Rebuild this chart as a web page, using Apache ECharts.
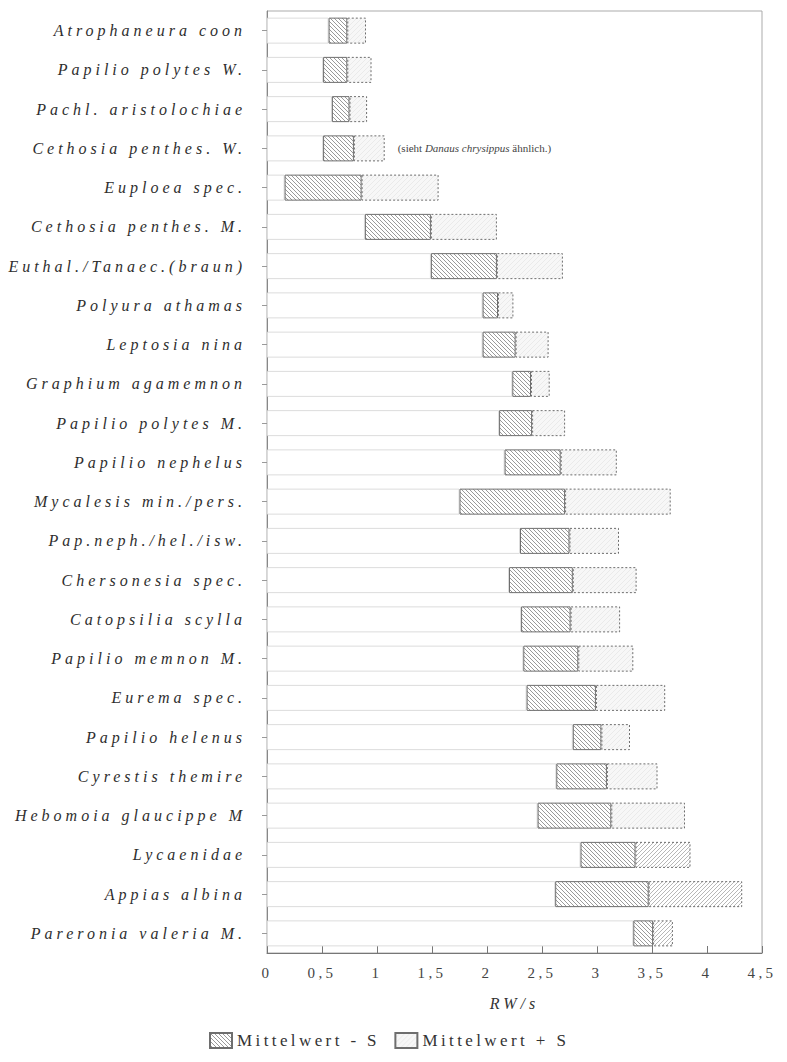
<!DOCTYPE html>
<html>
<head>
<meta charset="utf-8">
<script src="https://cdn.jsdelivr.net/npm/echarts@6/dist/echarts.min.js"></script>
<style>
  html, body { margin: 0; padding: 0; background: #fff; }
  #chart { width: 787px; height: 1062px; }
  /* spaced-out lettering of the printed figure */
  #chart text { letter-spacing: 3.4px; white-space: pre; }
  #chart text[style*="16px"] { letter-spacing: 4px; }
  #chart text[style*="11px"] { letter-spacing: 0; }
</style>
</head>
<body>
<div id="chart"></div>
<script>
// Species / groups, top to bottom
const categories = [
  'Atrophaneura coon',
  'Papilio polytes W.',
  'Pachl. aristolochiae',
  'Cethosia penthes. W.',
  'Euploea spec.',
  'Cethosia penthes. M.',
  'Euthal./Tanaec.(braun)',
  'Polyura athamas',
  'Leptosia nina',
  'Graphium agamemnon',
  'Papilio polytes M.',
  'Papilio nephelus',
  'Mycalesis min./pers.',
  'Pap.neph./hel./isw.',
  'Chersonesia spec.',
  'Catopsilia scylla',
  'Papilio memnon M.',
  'Eurema spec.',
  'Papilio helenus',
  'Cyrestis themire',
  'Hebomoia glaucippe M',
  'Lycaenidae',
  'Appias albina',
  'Pareronia valeria M.'
];

// Mean RW/s per group
const mittelwert = [
  0.73, 0.73, 0.75, 0.79, 0.86, 1.49, 2.09, 2.10, 2.26, 2.40, 2.41, 2.67,
  2.71, 2.75, 2.78, 2.76, 2.83, 2.99, 3.04, 3.09, 3.13, 3.35, 3.47, 3.51
];

// Standard deviation S per group
const streuung = [
  0.17, 0.22, 0.16, 0.28, 0.70, 0.60, 0.60, 0.14, 0.30, 0.17, 0.30, 0.51,
  0.96, 0.45, 0.58, 0.45, 0.50, 0.63, 0.26, 0.46, 0.67, 0.50, 0.85, 0.18
];

// Groups whose "+ S" segment is printed with a dense hatch
const dichtSchraffiert = ['Lycaenidae', 'Appias albina', 'Pareronia valeria M.'];

// Remark printed next to one of the bars
const anmerkungZeile = 'Cethosia penthes. W.';

const serif = "'Liberation Serif', 'DejaVu Serif', serif";

// Repeating diagonal hatch tile
function hatch(dir, lineColor, bg, size, width) {
  const c = document.createElement('canvas');
  c.width = c.height = size;
  const g = c.getContext('2d');
  if (bg) { g.fillStyle = bg; g.fillRect(0, 0, size, size); }
  g.strokeStyle = lineColor;
  g.lineWidth = width;
  g.beginPath();
  if (dir === 'back') {
    g.moveTo(-1, -1); g.lineTo(size + 1, size + 1);
    g.moveTo(size - 1, -1); g.lineTo(size + 1, 1);
    g.moveTo(-1, size - 1); g.lineTo(1, size + 1);
  } else {
    g.moveTo(-1, size + 1); g.lineTo(size + 1, -1);
    g.moveTo(-1, 1); g.lineTo(1, -1);
    g.moveTo(size - 1, size + 1); g.lineTo(size + 1, size - 1);
  }
  g.stroke();
  return c;
}

const minusFill = { image: hatch('back', '#808080', '#ffffff', 4, 0.8), repeat: 'repeat' };
const plusFill = { image: hatch('fwd', '#e6e6e6', '#f7f7f7', 5, 0.8), repeat: 'repeat' };
const plusFillDense = { image: hatch('fwd', '#a4a4a4', '#ffffff', 4, 0.8), repeat: 'repeat' };

const basis = mittelwert.map((m, i) => +(m - streuung[i]).toFixed(3));

const plusData = streuung.map((s, i) => {
  const item = { value: s };
  if (dichtSchraffiert.includes(categories[i])) {
    item.itemStyle = { color: plusFillDense };
  }
  if (categories[i] === anmerkungZeile) {
    item.label = {
      show: true,
      position: 'right',
      distance: 13,
      formatter: '{a|(sieht }{b|Danaus chrysippus}{a| ähnlich.)}',
      rich: {
        a: { fontSize: 11, fontFamily: serif, color: '#444' },
        b: { fontSize: 11, fontFamily: serif, fontStyle: 'italic', color: '#444' }
      }
    };
  }
  return item;
});

const chart = echarts.init(document.getElementById('chart'), null, { renderer: 'svg' });

chart.setOption({
  backgroundColor: '#ffffff',
  animation: false,
  grid: {
    left: 267,
    right: 25,
    top: 11,
    bottom: 109,
    show: true,
    borderColor: '#ababab',
    borderWidth: 1
  },
  legend: {
    data: ['Mittelwert - S', 'Mittelwert + S'],
    left: 204,
    bottom: 8,
    icon: 'rect',
    itemWidth: 22,
    itemHeight: 15,
    itemGap: 62,
    textStyle: { fontFamily: serif, fontSize: 17, color: '#333' }
  },
  xAxis: {
    type: 'value',
    min: 0,
    max: 4.5,
    interval: 0.5,
    name: 'RW/s',
    nameLocation: 'middle',
    nameGap: 42,
    nameTextStyle: { fontFamily: serif, fontStyle: 'italic', fontSize: 16, color: '#333' },
    axisLine: { show: true, lineStyle: { color: '#777', width: 1 } },
    axisTick: { show: true, inside: true, length: 7, lineStyle: { color: '#777' } },
    splitLine: { show: false },
    axisLabel: {
      fontFamily: serif,
      fontSize: 15,
      color: '#444',
      margin: 12,
      formatter: v => String(v).replace('.', ',')
    }
  },
  yAxis: {
    type: 'category',
    data: categories,
    inverse: true,
    axisLine: { show: true, lineStyle: { color: '#888', width: 1 } },
    axisTick: { show: true, alignWithLabel: true, length: 5, lineStyle: { color: '#999' } },
    axisLabel: {
      fontFamily: serif,
      fontStyle: 'italic',
      fontSize: 16,
      color: '#2e2e2e',
      margin: 21
    }
  },
  series: [
    {
      name: 'basis',
      type: 'bar',
      stack: 'rw',
      barWidth: 26,
      silent: true,
      itemStyle: { color: 'rgba(0,0,0,0)', borderColor: '#dcdcdc', borderWidth: 1 },
      data: basis
    },
    {
      name: 'Mittelwert - S',
      type: 'bar',
      stack: 'rw',
      barWidth: 26,
      itemStyle: { color: minusFill, borderColor: '#6e6e6e', borderWidth: 1 },
      data: streuung
    },
    {
      name: 'Mittelwert + S',
      type: 'bar',
      stack: 'rw',
      barWidth: 26,
      itemStyle: { color: plusFill, borderColor: '#6e6e6e', borderWidth: 1, borderType: [2, 2] },
      data: plusData
    }
  ]
});
</script>
</body>
</html>
